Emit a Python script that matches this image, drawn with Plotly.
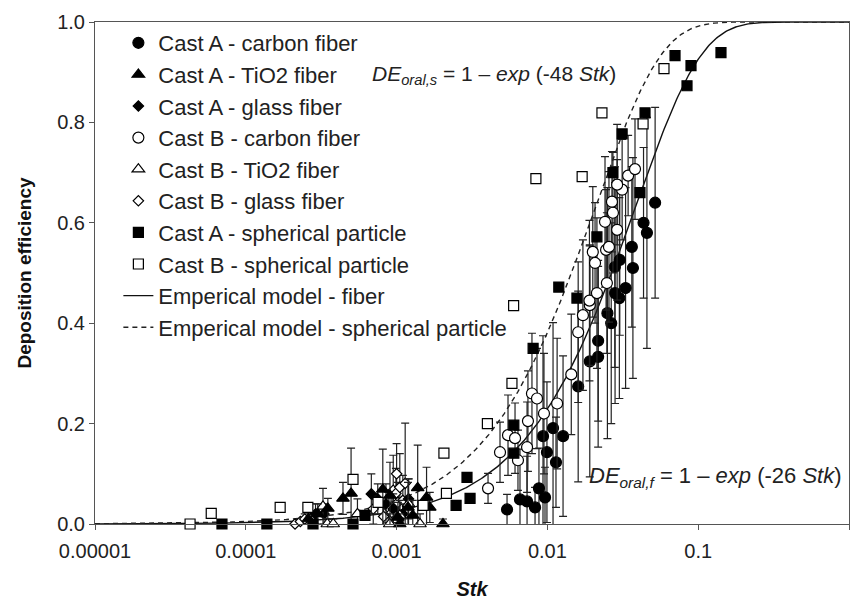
import numpy as np
import plotly.graph_objects as go

# ---------------- data ----------------
# Cast A - carbon fiber (filled circles)
a_carbon_x = [5.40e-3, 6.58e-3, 7.33e-3, 8.28e-3, 8.79e-3, 9.64e-3, 9.35e-3, 9.93e-3, 0.0109, 0.0114,
              0.0127, 0.0160, 0.0191, 0.0217, 0.0217, 0.0250, 0.0265, 0.0281, 0.0300, 0.0280,
              0.0302, 0.0330, 0.0363, 0.0369, 0.0434, 0.0457, 0.0518]
a_carbon_y = [0.029, 0.049, 0.045, 0.033, 0.071, 0.053, 0.175, 0.143, 0.191, 0.123,
              0.175, 0.274, 0.324, 0.333, 0.365, 0.420, 0.400, 0.460, 0.450, 0.512,
              0.526, 0.470, 0.552, 0.510, 0.600, 0.580, 0.640]
a_carbon_err = [0.03, 0.10, 0.09, 0.04, 0.08, 0.06, 0.20, 0.14, 0.21, 0.09,
                0.16, 0.19, 0.23, 0.18, 0.16, 0.25, 0.20, 0.22, 0.20, 0.20,
                0.15, 0.20, 0.16, 0.22, 0.15, 0.23, 0.19]

# Cast A - TiO2 fiber (filled triangles)
a_tio2_x = [2.6e-4, 3.0e-4, 3.5e-4, 4.41e-4, 4.99e-4, 8.1e-4, 9.04e-4, 1.02e-3, 1.05e-3, 1.19e-3,
            1.28e-3, 1.38e-3, 1.58e-3, 1.66e-3, 2.03e-3]
a_tio2_y = [0.010, 0.020, 0.031, 0.051, 0.061, 0.069, 0.057, 0.013, 0.000, 0.033,
            0.017, 0.072, 0.053, 0.033, 0.000]
a_tio2_err = [0.02, 0.02, 0.02, 0.032, 0.09, 0.08, 0.066, 0.03, 0.02, 0.05,
              0.03, 0.085, 0.06, 0.03, 0.01]

# Cast A - glass fiber (filled diamonds)
a_glass_x = [2.9e-4, 3.3e-4, 6.8e-4, 7.5e-4, 8.5e-4, 9.5e-4, 1.1e-3, 1.2e-3]
a_glass_y = [0.020, 0.020, 0.060, 0.050, 0.040, 0.030, 0.020, 0.050]
a_glass_err = [0.02, 0.02, 0.04, 0.03, 0.04, 0.03, 0.02, 0.04]

# Cast B - carbon fiber (open circles)
b_carbon_x = [4.04e-3, 4.85e-3, 5.48e-3, 6.10e-3, 6.38e-3, 7.33e-3, 7.43e-3, 7.90e-3, 8.53e-3, 9.49e-3,
              0.0116, 0.0144, 0.0160, 0.0172, 0.0191, 0.0190, 0.0207, 0.0213, 0.0248, 0.0200,
              0.0245, 0.0256, 0.0241, 0.0290, 0.0272, 0.0268, 0.0313, 0.0290, 0.0343, 0.0381]
b_carbon_y = [0.071, 0.143, 0.177, 0.171, 0.127, 0.153, 0.205, 0.260, 0.250, 0.220,
              0.240, 0.298, 0.382, 0.416, 0.436, 0.445, 0.520, 0.460, 0.480, 0.542,
              0.546, 0.552, 0.602, 0.586, 0.620, 0.642, 0.666, 0.676, 0.694, 0.707]
b_carbon_err = [0.03, 0.06, 0.08, 0.07, 0.06, 0.09, 0.10, 0.12, 0.10, 0.12,
                0.13, 0.12, 0.14, 0.15, 0.12, 0.16, 0.12, 0.15, 0.14, 0.13,
                0.12, 0.15, 0.13, 0.14, 0.12, 0.10, 0.10, 0.12, 0.08, 0.10]

# Cast B - TiO2 fiber (open triangles)
b_tio2_x = [3.25e-4, 3.47e-4, 3.8e-4, 5.5e-4, 9.0e-4, 1.05e-3, 1.2e-3, 1.43e-3]
b_tio2_y = [0.035, 0.000, 0.000, 0.020, 0.000, 0.017, 0.040, 0.000]
b_tio2_err = [0.036, 0.01, 0.01, 0.03, 0.02, 0.03, 0.05, 0.02]

# Cast B - glass fiber (open diamonds)
b_glass_x = [2.12e-4, 2.30e-4, 2.46e-4, 2.70e-4, 7.0e-4, 8.2e-4, 8.8e-4, 9.3e-4, 9.5e-4, 9.9e-4,
             1.02e-3, 1.05e-3, 1.10e-3, 1.14e-3, 1.00e-3]
b_glass_y = [0.000, 0.005, 0.010, 0.012, 0.030, 0.015, 0.033, 0.023, 0.067, 0.061,
             0.043, 0.073, 0.047, 0.081, 0.100]
b_glass_err = [0.005, 0.005, 0.01, 0.01, 0.03, 0.02, 0.03, 0.03, 0.07, 0.05,
               0.04, 0.067, 0.05, 0.12, 0.06]

# Cast A - spherical particle (filled squares)
a_sph_x = [6.95e-5, 1.38e-4, 2.79e-4, 5.14e-4, 6.17e-4, 2.48e-3, 2.93e-3, 3.07e-3, 5.99e-3, 5.99e-3,
           8.04e-3, 0.0119, 0.0157, 0.0213, 0.0272, 0.0313, 0.0411, 0.0444, 0.0702, 0.0843,
           0.0896, 0.1416]
a_sph_y = [0.000, 0.000, 0.000, 0.000, 0.017, 0.037, 0.093, 0.051, 0.141, 0.197,
           0.350, 0.472, 0.450, 0.572, 0.700, 0.777, 0.660, 0.819, 0.933, 0.873,
           0.913, 0.939]

# Cast B - spherical particle (open squares)
b_sph_x = [4.27e-5, 5.9e-5, 1.69e-4, 2.58e-4, 5.14e-4, 7.53e-4, 1.50e-3, 2.06e-3, 2.14e-3, 4.0e-3,
           5.82e-3, 5.97e-3, 8.39e-3, 0.0170, 0.0230, 0.0431, 0.0593]
b_sph_y = [0.000, 0.021, 0.033, 0.033, 0.089, 0.043, 0.037, 0.141, 0.061, 0.200,
           0.280, 0.435, 0.688, 0.692, 0.819, 0.797, 0.907]

# empirical model coefficients: DE = 1 - exp(-k Stk)
k_fiber = 26
k_sph = 48

x_tickvals = [1e-5, 1e-4, 1e-3, 1e-2, 1e-1, 1]
x_ticktext = ["0.00001", "0.0001", "0.001", "0.01", "0.1", "1"]

# ---------------- figure ----------------
FONT = "Liberation Sans, Arial, sans-serif"
fig = go.Figure()

stk = np.logspace(-5, 0, 600)
fig.add_trace(go.Scatter(x=stk, y=1 - np.exp(-k_fiber * stk), mode="lines",
                         line=dict(color="#111", width=1.4),
                         name="Emperical model - fiber", legendrank=9))
fig.add_trace(go.Scatter(x=stk, y=1 - np.exp(-k_sph * stk), mode="lines",
                         line=dict(color="#222", width=1.4, dash="5px,4px"),
                         name="Emperical model - spherical particle", legendrank=10))

def err(arr):
    return dict(type="data", array=arr, visible=True, color="#222", thickness=1.2, width=4)

def add(x, y, name, symbol, fill, size, rank, e=None):
    fig.add_trace(go.Scatter(
        x=x, y=y, mode="markers", name=name, legendrank=rank, cliponaxis=False,
        marker=dict(symbol=symbol, size=size, color=fill, line=dict(color="#000", width=1.2)),
        error_y=err(e) if e is not None else None))

add(b_glass_x, b_glass_y, "Cast B - glass fiber", "diamond", "white", 8, 6, b_glass_err)
add(a_glass_x, a_glass_y, "Cast A - glass fiber", "diamond", "black", 8, 3, a_glass_err)
add(b_tio2_x, b_tio2_y, "Cast B - TiO2 fiber", "triangle-up", "white", 11, 5, b_tio2_err)
add(a_tio2_x, a_tio2_y, "Cast A - TiO2 fiber", "triangle-up", "black", 11, 2, a_tio2_err)
add(a_carbon_x, a_carbon_y, "Cast A - carbon fiber", "circle", "black", 11, 1, a_carbon_err)
add(b_carbon_x, b_carbon_y, "Cast B - carbon fiber", "circle", "white", 11, 4, b_carbon_err)
add(a_sph_x, a_sph_y, "Cast A - spherical particle", "square", "black", 10, 7)
add(b_sph_x, b_sph_y, "Cast B - spherical particle", "square", "white", 10, 8)

fig.add_annotation(x=np.log10(6.7e-4), y=0.895, xref="x", yref="y", xanchor="left", yanchor="middle",
                   text="<i>DE</i><sub><i>oral,s</i></sub> = 1 – <i>exp</i> (-48 <i>Stk</i>)",
                   showarrow=False, font=dict(family=FONT, size=21, color="#222"))
fig.add_annotation(x=np.log10(0.0183), y=0.093, xref="x", yref="y", xanchor="left", yanchor="middle",
                   text="<i>DE</i><sub><i>oral,f</i></sub> = 1 – <i>exp</i> (-26 <i>Stk</i>)",
                   showarrow=False, font=dict(family=FONT, size=22, color="#222"))

fig.update_layout(
    width=852, height=600,
    margin=dict(l=95, r=3, t=22, b=76),
    paper_bgcolor="white", plot_bgcolor="white",
    font=dict(family=FONT, size=20, color="#222"),
    showlegend=True,
    legend=dict(x=0.031, y=1.0, xanchor="left", yanchor="top", bgcolor="rgba(0,0,0,0)",
                font=dict(family=FONT, size=22, color="#222"), tracegroupgap=0),
    xaxis=dict(type="log", range=[-5, 0], tickvals=x_tickvals, ticktext=x_ticktext,
               ticks="outside", ticklen=5, tickcolor="#555", showline=True, linecolor="#555",
               linewidth=1, mirror=True, showgrid=False, zeroline=False, ticklabelstandoff=4,
               automargin=False,
               tickfont=dict(size=20, color="#222"),
               title=dict(text="<b><i>Stk</i></b>", font=dict(size=20, color="#111"), standoff=24)),
    yaxis=dict(range=[0, 1], dtick=0.2, tickformat=".1f",
               ticks="outside", ticklen=5, tickcolor="#555", showline=True, linecolor="#555",
               linewidth=1, mirror=True, showgrid=False, zeroline=False, automargin=False,
               tickfont=dict(size=20, color="#222"),
               title=dict(text="<b>Deposition efficiency</b>", font=dict(size=19, color="#111"), standoff=20)),
)

fig.write_html("out.html")
